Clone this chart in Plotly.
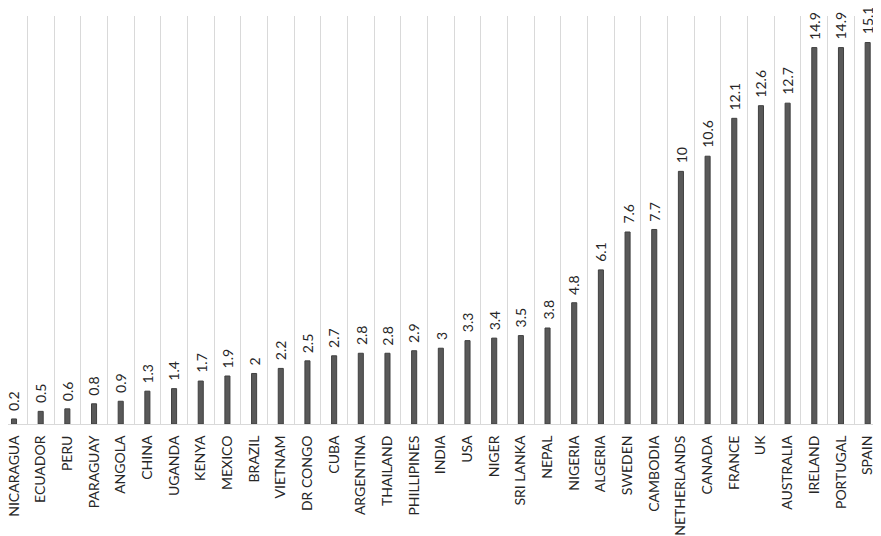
import plotly.graph_objects as go

countries = ["NICARAGUA", "ECUADOR", "PERU", "PARAGUAY", "ANGOLA", "CHINA", "UGANDA", "KENYA",
             "MEXICO", "BRAZIL", "VIETNAM", "DR CONGO", "CUBA", "ARGENTINA", "THAILAND",
             "PHILLIPINES", "INDIA", "USA", "NIGER", "SRI LANKA", "NEPAL", "NIGERIA", "ALGERIA",
             "SWEDEN", "CAMBODIA", "NETHERLANDS", "CANADA", "FRANCE", "UK", "AUSTRALIA",
             "IRELAND", "PORTUGAL", "SPAIN"]
values = [0.2, 0.5, 0.6, 0.8, 0.9, 1.3, 1.4, 1.7, 1.9, 2, 2.2, 2.5, 2.7, 2.8, 2.8, 2.9, 3,
          3.3, 3.4, 3.5, 3.8, 4.8, 6.1, 7.6, 7.7, 10, 10.6, 12.1, 12.6, 12.7, 14.9, 14.9, 15.1]
labels = [f"{v:g}" for v in values]

FONT = "Lato, Open Sans, sans-serif"

fig = go.Figure(go.Bar(
    x=countries, y=values,
    marker=dict(color="#595959", line=dict(color="#404040", width=1)),
    cliponaxis=False,
))
for c, v, t in zip(countries, values, labels):
    fig.add_annotation(x=c, y=v, text=t, textangle=-90, showarrow=False,
                       xanchor="center", yanchor="bottom", yshift=6,
                       font=dict(family=FONT, size=14, color="#262626"))

# page body has an 8px default margin: figure is offset by 8px
spacing = 26.66
left_cut = (8 - 0.67) / spacing
fig.update_layout(
    width=873, height=528,
    margin=dict(l=0, r=0, t=8, b=112, autoexpand=False),
    paper_bgcolor="white", plot_bgcolor="white",
    bargap=0.81, showlegend=False,
    font=dict(family=FONT, size=14, color="#262626"),
)
fig.update_xaxes(tickangle=-90, tickson="boundaries", showgrid=True, gridcolor="#d9d9d9",
                 gridwidth=1, showline=True, linecolor="#d9d9d9", ticks="",
                 ticklabelstandoff=5,
                 range=[-0.5 + left_cut, len(countries) - 0.5], automargin=False,
                 tickfont=dict(family=FONT, size=14, color="#262626"))
fig.update_yaxes(range=[0, 16.15], visible=False, showgrid=False)
fig.write_html("out.html")
